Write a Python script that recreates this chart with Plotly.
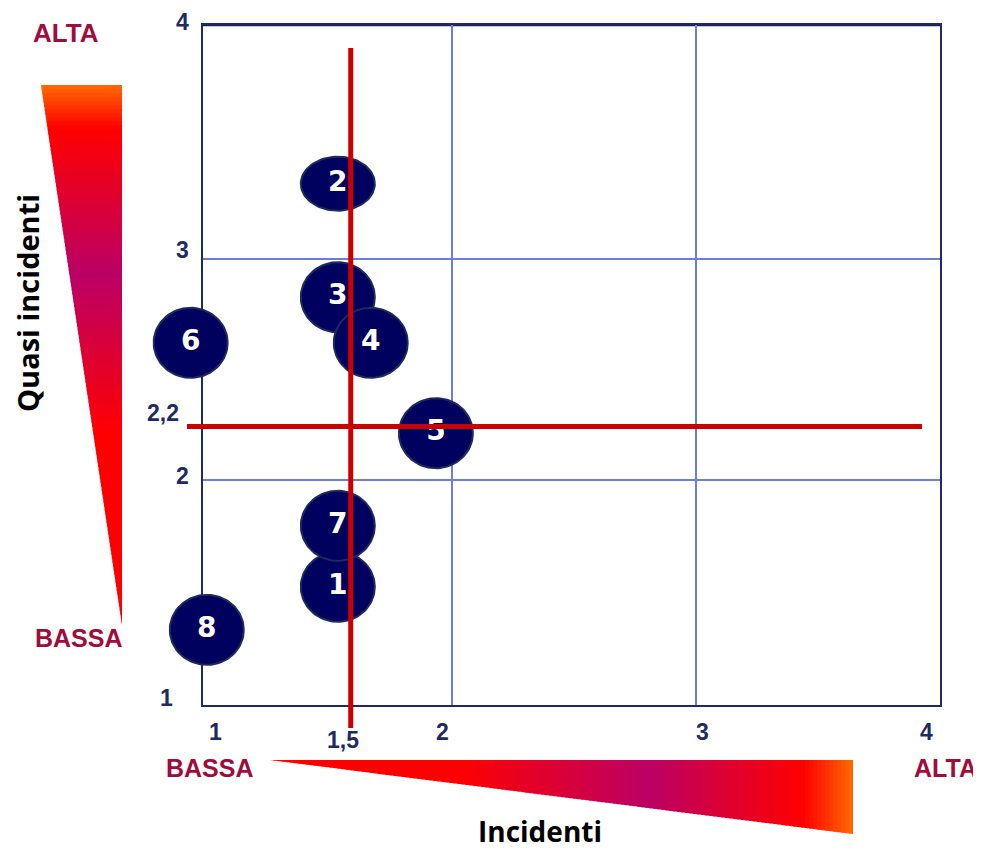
import numpy as np
import plotly.graph_objects as go

# ---------------- data ----------------
bubble_labels = ["1", "2", "3", "4", "5", "6", "7", "8"]
incidenti = [1.532, 1.532, 1.532, 1.667, 1.934, 0.929, 1.532, 0.995]   # x
quasi_incidenti = [1.518, 3.342, 2.828, 2.622, 2.213, 2.622, 1.794, 1.323]  # y

soglia_x = 1.585        # vertical red line (labelled "1,5")
soglia_x_label = "1,5"
soglia_y = 2.243        # horizontal red line (labelled "2,2")
soglia_y_label = "2,2"

x_tick_vals = [1, 2, 3, 4]
x_tick_text = ["1", "2", "3", "4"]
y_tick_vals = [1, 2, 3, 4]
y_tick_text = ["1", "2", "3", "4"]

# ---------------- styling / layout ----------------
W, H = 981, 850
OFF = 8                      # page body margin
L, T, PW, PH = 203, 25, 737, 680   # plot area in screen pixels
XR = [0.9795, 4.0]
YR = [0.983, 4.06]

NAVY = "#1f2a63"
MAROON = "#a00c3c"
BUBBLE = "#00005f"
RED = "#cc0000"


def px(xp):   # screen pixel -> paper x
    return (xp - OFF) / W


def py(yp):   # screen pixel -> paper y
    return 1 - (yp - OFF) / H


ux = PW / (XR[1] - XR[0])   # px per x unit
uy = PH / (YR[1] - YR[0])   # px per y unit


def dx(x):  # data x -> paper
    return px(L + (x - XR[0]) * ux)


def dy(y):  # data y -> paper
    return py(T + (YR[1] - y) * uy)


# full-figure overlay axes with the same scale
X2R = [XR[0] - (L - OFF) / ux, XR[0] + (W + OFF - L) / ux]
Y2R = [YR[1] - (H + OFF - T) / uy, YR[1] + (T - OFF) / uy]

bubble_w_px = 74
bubble_h_px = [70, 54, 70, 70, 70, 70, 70, 70]
draw_order = [1, 2, 3, 5, 4, 0, 6, 7]

fig = go.Figure()

# invisible trace to anchor the main axes
fig.add_trace(go.Scatter(x=[XR[0]], y=[YR[0]], mode="markers",
                         marker=dict(opacity=0), hoverinfo="skip",
                         showlegend=False, xaxis="x", yaxis="y"))

t = np.linspace(0, 2 * np.pi, 100)
for i in draw_order:
    rx = bubble_w_px / 2 / ux
    ry = bubble_h_px[i] / 2 / uy
    fig.add_trace(go.Scatter(
        x=incidenti[i] + rx * np.cos(t),
        y=quasi_incidenti[i] + ry * np.sin(t),
        mode="lines", fill="toself", fillcolor=BUBBLE,
        line=dict(color="#1d2a5c", width=2),
        hoverinfo="skip", showlegend=False, xaxis="x2", yaxis="y2",
    ))

fig.add_trace(go.Scatter(
    x=incidenti, y=quasi_incidenti, mode="text", text=bubble_labels,
    textposition="middle center",
    textfont=dict(family="DejaVu Sans", size=28, color="white", weight="bold"),
    hoverinfo="skip", showlegend=False, xaxis="x2", yaxis="y2",
))

shapes = []


def lerp_color(stops, f):
    for (f0, c0), (f1, c1) in zip(stops[:-1], stops[1:]):
        if f0 <= f <= f1:
            a = 0 if f1 == f0 else (f - f0) / (f1 - f0)
            c0 = [int(c0[k:k + 2], 16) for k in (1, 3, 5)]
            c1 = [int(c1[k:k + 2], 16) for k in (1, 3, 5)]
            c = [round(c0[k] + (c1[k] - c0[k]) * a) for k in range(3)]
            return "rgb(%d,%d,%d)" % tuple(c)
    return stops[-1][1]


# left gradient triangle: (41,85) (122,85) (122,625)
left_stops = [(0.0, "#ff6a00"), (0.08, "#ff0000"), (0.35, "#bb0066"),
              (0.65, "#ff0000"), (1.0, "#ff0000")]
top, bot, xl0, xr = 85, 625, 41, 122
N = 135
for k in range(N):
    ya = top + (bot - top) * k / N
    yb = min(top + (bot - top) * (k + 1) / N + 1.5, bot)
    xa = xl0 + (ya - top) / (bot - top) * (xr - xl0)
    xb = xl0 + (yb - top) / (bot - top) * (xr - xl0)
    col = lerp_color(left_stops, (k + 0.5) / N)
    path = "M %f %f L %f %f L %f %f L %f %f Z" % (
        px(xa), py(ya), px(xr), py(ya), px(xr), py(yb), px(xb), py(yb))
    shapes.append(dict(type="path", xref="paper", yref="paper", path=path,
                       fillcolor=col, line=dict(width=0), layer="above"))

# bottom gradient triangle: (270,760) (853,760) (853,834)
bot_stops = [(0.0, "#ff0000"), (0.32, "#ff0000"), (0.65, "#bb0066"),
             (0.915, "#ff0000"), (1.0, "#ff6a00")]
x0b, x1b, ytop, ybot = 270, 853, 760, 834
N = 146
for k in range(N):
    xa = x0b + (x1b - x0b) * k / N
    xb = min(x0b + (x1b - x0b) * (k + 1) / N + 1.5, x1b)
    ya = ytop + (xa - x0b) / (x1b - x0b) * (ybot - ytop)
    yb = ytop + (xb - x0b) / (x1b - x0b) * (ybot - ytop)
    col = lerp_color(bot_stops, (k + 0.5) / N)
    path = "M %f %f L %f %f L %f %f L %f %f Z" % (
        px(xa), py(ytop), px(xb), py(ytop), px(xb), py(yb), px(xa), py(ya))
    shapes.append(dict(type="path", xref="paper", yref="paper", path=path,
                       fillcolor=col, line=dict(width=0), layer="above"))

# darker top border of the plot area
shapes.append(dict(type="line", xref="paper", yref="paper",
                   x0=px(L), x1=px(L + PW), y0=py(T), y1=py(T),
                   line=dict(color="#16205a", width=2.5), layer="below"))

# red threshold lines (above bubbles)
shapes.append(dict(type="line", xref="paper", yref="paper",
                   x0=dx(soglia_x), x1=dx(soglia_x), y0=py(728), y1=py(48),
                   line=dict(color=RED, width=5), layer="above"))
shapes.append(dict(type="line", xref="paper", yref="paper",
                   x0=px(187), x1=px(922), y0=dy(soglia_y), y1=dy(soglia_y),
                   line=dict(color=RED, width=5), layer="above"))

annotations = []


def ann(text, xp, yp, size, color, family="Liberation Sans", angle=0):
    annotations.append(dict(
        text=text, xref="paper", yref="paper", x=px(xp), y=py(yp),
        xanchor="center", yanchor="middle", showarrow=False, textangle=angle,
        font=dict(family=family, size=size, color=color, weight="bold")))


# tick labels (positions as in the picture)
x_tick_pix = {1: (215, 732), 2: (442, 732), 3: (702, 732), 4: (926, 732)}
for v, s in zip(x_tick_vals, x_tick_text):
    ann(s, *x_tick_pix[v], 23, NAVY)
ann(soglia_x_label, 343, 740, 23, NAVY)

y_tick_pix = {1: (166, 698), 2: (182, 476), 3: (182, 250), 4: (182, 22)}
for v, s in zip(y_tick_vals, y_tick_text):
    ann(s, *y_tick_pix[v], 23, NAVY)
ann(soglia_y_label, 163, 413, 23, NAVY)

ann("ALTA", 66, 33, 26, MAROON)
ann("BASSA", 78.5, 638, 25, MAROON)
ann("BASSA", 209.5, 768, 25, MAROON)
ann("ALTA", 945, 768, 25, MAROON)

ann("Quasi incidenti", 27, 303, 29, "#000000", family="Open Sans", angle=-90)
ann("Incidenti", 540, 831, 28, "#000000", family="Open Sans")

axis_common = dict(
    showgrid=True, gridcolor="#6a80d8", gridwidth=1.5,
    tickvals=[2, 3], showticklabels=False, ticks="",
    showline=True, mirror=True, linecolor=NAVY, linewidth=2,
    zeroline=False, layer="below traces", fixedrange=True,
)
hidden = dict(visible=False, showgrid=False, zeroline=False, fixedrange=True)

fig.update_layout(
    width=W, height=H,
    margin=dict(l=0, r=0, t=0, b=0, pad=0),
    paper_bgcolor="white", plot_bgcolor="rgba(0,0,0,0)",
    xaxis=dict(range=XR, domain=[px(L), px(L + PW)], anchor="y", **axis_common),
    yaxis=dict(range=YR, domain=[py(T + PH), py(T)], anchor="x", **axis_common),
    xaxis2=dict(range=X2R, domain=[0, 1], anchor="y2", **hidden),
    yaxis2=dict(range=Y2R, domain=[0, 1], anchor="x2", **hidden),
    shapes=shapes, annotations=annotations,
    showlegend=False,
)

fig.write_html("out.html")
